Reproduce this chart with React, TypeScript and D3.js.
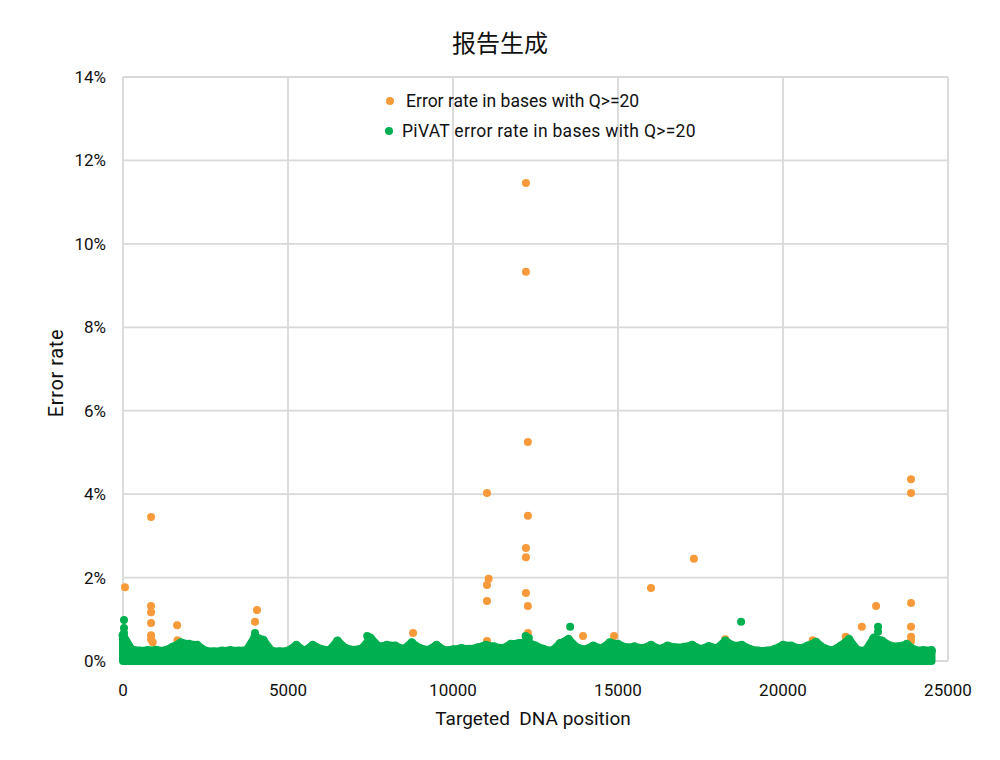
import * as d3 from "d3";

// Error rate (%) of bases with Q>=20, isolated points above the dense band
const orangePos = [60, 850, 850, 850, 850, 850, 850, 1640, 4060, 4000, 8790, 11030, 11030, 11080, 11030, 11030,
  12210, 12210, 12270, 12270, 12210, 12210, 12210, 12270, 12270, 13940, 14880, 16000, 17300, 18250, 22390,
  22820, 23880, 23880, 23880, 23880, 23880, 23880, 900, 1650, 20900, 21900];
const orangeRate = [1.77, 3.45, 1.32, 1.17, 0.91, 0.62, 0.52, 0.86, 1.22, 0.94, 0.67, 4.03, 1.82, 1.97, 1.44, 0.48,
  11.46, 9.33, 5.25, 3.48, 2.71, 2.49, 1.63, 1.32, 0.67, 0.6, 0.6, 1.75, 2.45, 0.52, 0.82,
  1.32, 4.36, 4.03, 1.39, 0.82, 0.58, 0.48, 0.45, 0.5, 0.5, 0.58];

// PiVAT error rate (%), isolated points above the band
const greenPos = [30, 30, 30, 4000, 12200, 12300, 13550, 18730, 22880, 22880, 7400];
const greenRate = [0.98, 0.79, 0.67, 0.67, 0.6, 0.55, 0.82, 0.94, 0.82, 0.7, 0.6];

// Upper edge of the dense PiVAT band (%), sampled every 250 positions
const bandPos = d3.range(0, 24501, 250);
const bandTop = [
  0.62, 0.28, 0.24, 0.25, 0.26, 0.24, 0.33, 0.44, 0.4, 0.38,
  0.24, 0.22, 0.24, 0.25, 0.24, 0.26, 0.58, 0.5, 0.24, 0.22,
  0.24, 0.38, 0.24, 0.38, 0.28, 0.25, 0.48, 0.3, 0.26, 0.3,
  0.55, 0.34, 0.38, 0.36, 0.28, 0.44, 0.3, 0.26, 0.38, 0.25,
  0.27, 0.3, 0.28, 0.32, 0.38, 0.34, 0.3, 0.4, 0.42, 0.45,
  0.36, 0.28, 0.24, 0.42, 0.52, 0.32, 0.27, 0.36, 0.3, 0.44,
  0.4, 0.32, 0.34, 0.3, 0.38, 0.28, 0.36, 0.32, 0.33, 0.38,
  0.28, 0.35, 0.3, 0.48, 0.36, 0.38, 0.28, 0.24, 0.24, 0.28,
  0.38, 0.36, 0.3, 0.36, 0.45, 0.3, 0.25, 0.36, 0.52, 0.26,
  0.24, 0.55, 0.48, 0.36, 0.34, 0.4, 0.26, 0.25, 0.25,
];

const xTicks = [0, 5000, 10000, 15000, 20000, 25000];
const yTicks = [0, 2, 4, 6, 8, 10, 12, 14];

const ORANGE = "#f89a3a";
const GREEN = "#00b050";
const GRID = "#d9d9d9";
const FONT = "Roboto, 'Noto Sans', sans-serif";

const M = { left: 123, right: 948, top: 77, bottom: 661 };

export default function App() {
  const x = d3.scaleLinear().domain([0, 25000]).range([M.left, M.right]);
  const y = d3.scaleLinear().domain([0, 14]).range([M.bottom, M.top]);

  const band = bandPos.map((p, i) => ({ p, v: bandTop[i] }));
  const area = d3
    .area<{ p: number; v: number }>()
    .x((d) => x(d.p))
    .y0(y(0))
    .y1((d) => y(d.v))(band);

  return (
    <div style={{ position: "absolute", left: 0, top: 0 }}>
      <svg width={1000} height={760} style={{ display: "block", background: "#fff" }}>
        <text x={500} y={52} textAnchor="middle" fontSize={24} fontFamily="'Noto Sans CJK SC', sans-serif" fill="#111">
          报告生成
        </text>

        {/* grid */}
        {yTicks.map((t) => (
          <line key={"gy" + t} x1={M.left} x2={M.right} y1={y(t)} y2={y(t)} stroke={GRID} strokeWidth={1.8} />
        ))}
        {xTicks.map((t) => (
          <line key={"gx" + t} x1={x(t)} x2={x(t)} y1={M.top} y2={M.bottom} stroke={GRID} strokeWidth={1.8} />
        ))}

        {/* tick labels */}
        {yTicks.map((t) => (
          <text key={"ly" + t} x={106} y={y(t) + 6} textAnchor="end" fontSize={17} fontFamily={FONT} fill="#111">
            {t}%
          </text>
        ))}
        {xTicks.map((t) => (
          <text key={"lx" + t} x={x(t)} y={696} textAnchor="middle" fontSize={17} fontFamily={FONT} fill="#111">
            {t}
          </text>
        ))}

        {/* axis titles */}
        <text
          transform={`translate(63,${(M.top + M.bottom) / 2 + 4}) rotate(-90)`}
          textAnchor="middle"
          fontSize={20}
          letterSpacing={0.6}
          fontFamily={FONT}
          fill="#111"
        >
          Error rate
        </text>
        <text
          x={533}
          y={725}
          textAnchor="middle"
          fontSize={19}
          fontFamily={FONT}
          fill="#111"
          style={{ whiteSpace: "pre" }}
        >
          {"Targeted  DNA position"}
        </text>

        {/* orange series */}
        {orangePos.map((p, i) => (
          <circle key={"o" + i} cx={x(p)} cy={y(orangeRate[i])} r={4} fill={ORANGE} />
        ))}

        {/* dense green band */}
        <path d={area ?? ""} fill={GREEN} stroke={GREEN} strokeWidth={8} strokeLinejoin="round" />
        {band.map((d, i) => (
          <circle key={"b" + i} cx={x(d.p)} cy={y(d.v)} r={4.5} fill={GREEN} />
        ))}
        {greenPos.map((p, i) => (
          <circle key={"g" + i} cx={x(p)} cy={y(greenRate[i])} r={4} fill={GREEN} />
        ))}

        {/* legend */}
        <circle cx={390} cy={101} r={4} fill={ORANGE} />
        <text x={406} y={107} fontSize={17.5} fontFamily={FONT} fill="#111">
          Error rate in bases with Q&gt;=20
        </text>
        <circle cx={389} cy={131} r={4} fill={GREEN} />
        <text x={402} y={137} fontSize={17.5} letterSpacing={0.3} fontFamily={FONT} fill="#111">
          PiVAT error rate in bases with Q&gt;=20
        </text>
      </svg>
    </div>
  );
}
